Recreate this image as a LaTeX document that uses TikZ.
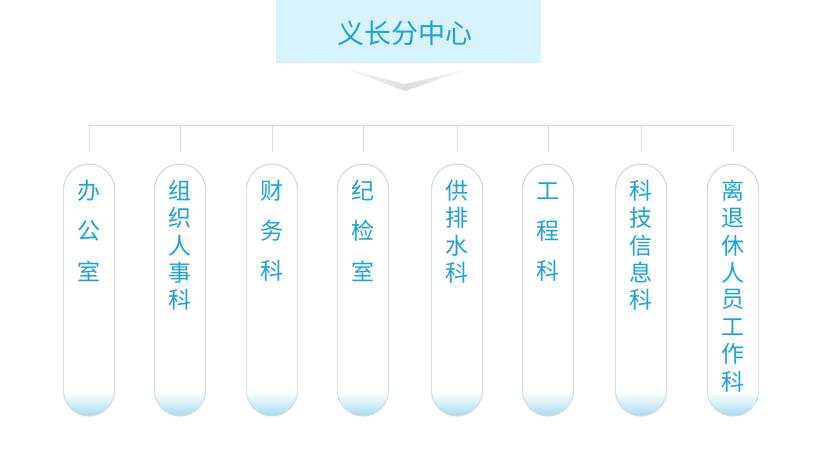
\documentclass[tikz,border=0pt]{standalone}
\usepackage{fontspec}
\newfontfamily\cjk{Noto Sans CJK SC}
\usetikzlibrary{positioning}
\definecolor{deptblue}{HTML}{1BA3DA}
\definecolor{headfill}{HTML}{D7F3FC}
\definecolor{wireclr}{HTML}{DCDCDC}
\definecolor{pillaredge}{HTML}{D3DCE1}
\definecolor{glowclr}{HTML}{A4DAEE}
\tikzset{
  headbox/.style={fill=headfill, minimum width=265pt, minimum height=63pt, inner sep=0pt},
  pillar/.style={draw=pillaredge, line width=0.8pt, fill=white, rounded corners=25.5pt,
                 minimum width=51pt, minimum height=252pt, inner sep=0pt},
  deptchar/.style={text=deptblue, inner sep=0pt, font=\cjk\fontsize{23}{26}\selectfont},
  wire/.style={draw=wireclr, line width=0.8pt},
}

\begin{document}
\begin{tikzpicture}[x=1pt, y=-1pt]
    \useasboundingbox (0,0) rectangle (826,464);

    % title box and its fold shadow
    \shade[left color=white, right color=white, middle color=black!13]
      (330,63) -- (485,63) -- (405,91) -- cycle;
    \fill[white] (320,62) -- (497,62) -- (405,84) -- cycle;
    \node[headbox] (head) at (408.5,31.5) {};
    \node[text=deptblue, font=\cjk\fontsize{27}{32}\selectfont] (headtxt) at (405,33) {义长分中心};

    % bus line
    \coordinate (busL) at (89,125);
    \coordinate (busR) at (733,125);
    \draw[wire] (busL) -- (busR);

    \foreach \i/\x/\chars/\sep in {1/89/{办,公,室}/40,
                                   2/180/{组,织,人,事,科}/27.2,
                                   3/272/{财,务,科}/40,
                                   4/363/{纪,检,室}/40,
                                   5/457/{供,排,水,科}/27.2,
                                   6/548/{工,程,科}/40,
                                   7/641/{科,技,信,息,科}/27.2,
                                   8/733/{离,退,休,人,员,工,作,科}/27.2} {
      \node[pillar] (p\i) at (\x,290) {};
      % bottom glow
      \begin{scope}
        \clip[rounded corners=25.5pt] (\x-25.5,164) rectangle (\x+25.5,416);
        \shade[top color=white, bottom color=glowclr] (\x-26,392) rectangle (\x+26,417);
      \end{scope}
      \draw[pillaredge, line width=0.8pt, rounded corners=25.5pt]
        (\x-25.5,164) rectangle (\x+25.5,416);
      \coordinate (drop\i) at (\x,125);
      \coordinate (stub\i) at (\x,152);
      \draw[wire] (drop\i) -- (stub\i);
      \foreach \c [count=\k] in \chars {
        \node[deptchar] (c\i-\k) at (\x,{191+(\k-1)*\sep}) {\c};
      }
    }
\end{tikzpicture}
\end{document}
